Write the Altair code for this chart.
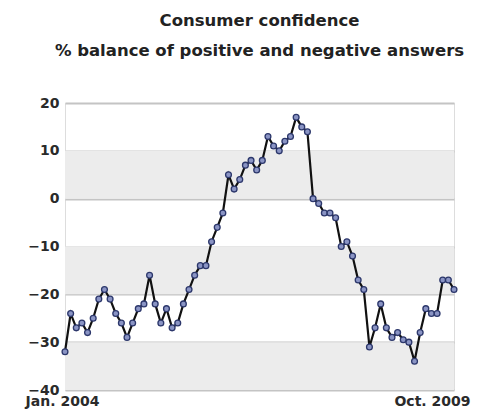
import altair as alt
import pandas as pd

# Monthly consumer confidence, Jan. 2004 .. Oct. 2009
values = [
    -32, -24, -27, -26, -28, -25, -21, -19, -21, -24, -26, -29,
    -26, -23, -22, -16, -22, -26, -23, -27, -26, -22, -19, -16,
    -14, -14, -9, -6, -3, 5, 2, 4, 7, 8, 6, 8,
    13, 11, 10, 12, 13, 17, 15, 14, 0, -1, -3, -3,
    -4, -10, -9, -12, -17, -19, -31, -27, -22, -27, -29, -28,
    -29.5, -30, -34, -28, -23, -24, -24, -17, -17, -19,
]
months = list(pd.date_range("2004-01-01", periods=len(values), freq="MS").strftime("%b. %Y"))
x_tick_labels = [months[0], months[-1]]
y_ticks = [-40, -30, -20, -10, 0, 10, 20]
band_low = [0, -20, -40]
band_high = [10, -10, -30]
title_lines = ["Consumer confidence", "% balance of positive and negative answers"]

df = pd.DataFrame({"month": months, "value": values})
bands = pd.DataFrame({"lo": band_low, "hi": band_high})

FONT = "DejaVu Sans"

x_enc = alt.X(
    "month:O",
    sort=None,
    scale=alt.Scale(type="point", padding=0),
    axis=alt.Axis(
        values=x_tick_labels,
        title=None,
        labelAngle=0,
        ticks=False,
        domain=False,
        grid=False,
        labelFont=FONT,
        labelFontSize=14,
        labelFontWeight="bold",
        labelColor="#2a2a2a",
        labelPadding=4,
        labelOffset={"condition": {"test": f"datum.value == '{x_tick_labels[-1]}'", "value": -22}, "value": -3},
    ),
)
y_scale = alt.Scale(domain=[-40, 20], nice=False)

band_layer = alt.Chart(bands).mark_rect(color="#ececec").encode(
    y=alt.Y("lo:Q", scale=y_scale),
    y2="hi:Q",
)

line = alt.Chart(df).mark_line(color="#111111", strokeWidth=2.2).encode(
    x=x_enc,
    y=alt.Y(
        "value:Q",
        scale=y_scale,
        axis=alt.Axis(
            values=y_ticks,
            title=None,
            ticks=False,
            domain=False,
            grid=True,
            gridColor="#c4c4c4",
            gridWidth=2,
            labelFont=FONT,
            labelFontSize=14,
            labelFontWeight="bold",
            labelColor="#2a2a2a",
            labelPadding=6,
        ),
    ),
)

points = alt.Chart(df).mark_point(
    filled=True, shape="circle", size=34, fill="#8a94c4", stroke="#2c376b", strokeWidth=1.3, opacity=1
).encode(x=x_enc, y=alt.Y("value:Q", scale=y_scale))

chart = (
    alt.layer(band_layer, line, points)
    .properties(
        width=389,
        height=287,
        autosize=alt.AutoSizeParams(type="none"),
        padding={"left": 57, "top": 95, "right": 18, "bottom": 19},
        title=alt.Title(
            text=title_lines,
            font=FONT,
            fontSize=16.5,
            fontWeight="bold",
            color="#222222",
            lineHeight=30,
            anchor="middle",
            offset=37,
        ),
    )
    .configure_view(stroke="#8a8a8a", strokeWidth=2.5)
    .configure(background="white")
)

chart.save("out.html", embed_options={"renderer": "svg", "actions": False})
